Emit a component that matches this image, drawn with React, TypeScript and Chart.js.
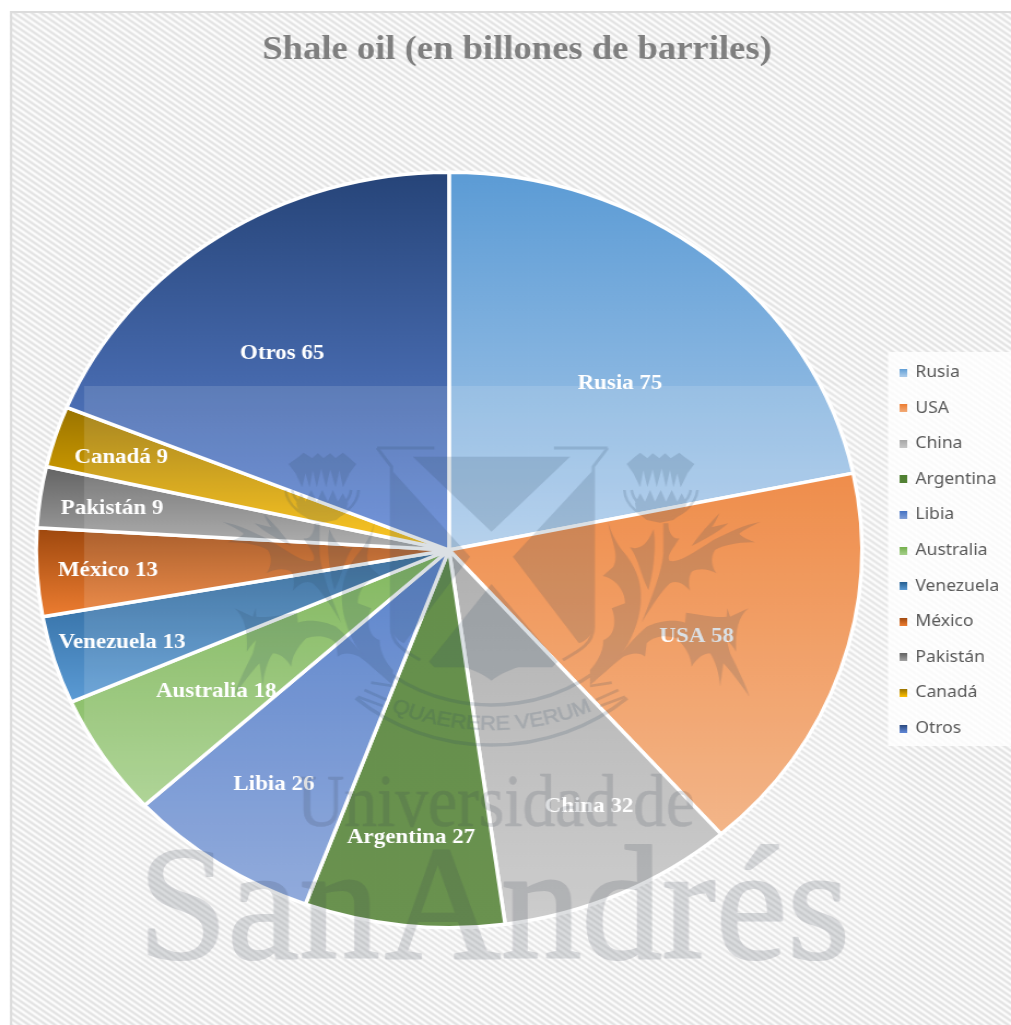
import React, { useEffect, useRef } from "react";
import { Chart, registerables } from "chart.js";

Chart.register(...registerables);

const categories = ["Rusia", "USA", "China", "Argentina", "Libia", "Australia", "Venezuela", "México", "Pakistán", "Canadá", "Otros"];
const reserves = [75, 58, 32, 27, 26, 18, 13, 13, 9, 9, 65];
const gradientTop = ["#5b9bd5", "#ed7d31", "#a5a5a5", "#4e7f31", "#4472c4", "#70ad47", "#255e91", "#9e480e", "#636363", "#997300", "#264478"];
const gradientBottom = ["#accbea", "#f2ab78", "#c6c6c6", "#548235", "#829fd7", "#a4cf89", "#5b9bd5", "#ed7d31", "#a5a5a5", "#ffc000", "#5f86d6"];
// Label anchors as fractions of the pie radius, measured from its centre.
const labelOffsetX = [0.414, 0.6, 0.339, -0.092, -0.424, -0.564, -0.792, -0.826, -0.816, -0.794, -0.404];
const labelOffsetY = [-0.447, 0.225, 0.675, 0.757, 0.616, 0.37, 0.241, 0.048, -0.116, -0.251, -0.524];

const PAGE_W = 1011;
const PAGE_H = 1025;
const CANVAS_W = 925;
const STRETCH = PAGE_W / CANVAS_W;
const PIE_CX = 449 / STRETCH;
const PIE_TOP = 170.5;
const PIE_BOTTOM = 929.5;

const THISTLE_SHAPES = [
  "M110,72 L135,50 L150,38 L172,55 L188,40 L208,55 L225,40 L242,55 L268,38 L282,50 L313,72 L292,100 L272,142 L262,100 L250,142 L240,90 L228,142 L215,85 L200,142 L188,88 L172,142 L160,90 L150,142 L130,100 Z",
  "M135,190 L150,160 L165,185 L180,150 L195,185 L212,150 L228,185 L245,150 L262,185 L275,160 L290,190 L282,215 L250,240 L210,248 L170,240 L140,215 Z",
  "M55,245 C60,300 90,340 70,380 L38,408 C75,415 105,450 105,490 L65,505 C80,540 75,590 40,600 C40,640 15,675 0,690 L0,725 C60,700 120,620 140,550 C165,470 155,400 100,335 C75,305 60,270 55,245 Z",
  "M120,322 C145,330 170,320 190,268 C198,300 195,380 175,450 C150,400 145,355 120,322 Z",
  "M220,250 L235,250 C235,280 250,300 268,295 C250,325 230,345 238,362 C262,370 300,345 370,300 C420,275 460,255 512,245 C480,260 450,275 448,282 C460,295 480,300 495,307 C450,305 400,315 375,330 C360,350 365,385 380,400 C350,385 325,385 305,395 C295,410 295,435 300,452 C280,430 260,420 240,430 C215,450 185,500 155,548 C185,470 215,400 220,340 Z",
  "M305,318 C330,280 360,250 388,220 C380,240 370,255 365,262 L415,250 C380,280 340,300 305,318 Z",
  "M0,725 C60,690 120,600 170,560 C200,545 250,535 285,548 L288,518 C340,525 380,535 410,530 L412,505 L420,530 L475,505 C445,530 435,570 438,635 C430,620 420,610 410,600 L420,640 C440,680 465,730 478,770 C450,730 420,690 400,670 L390,740 C388,700 375,660 360,640 C340,640 320,655 305,680 C302,650 290,625 260,595 C230,585 195,585 170,610 L165,650 C150,635 120,640 100,650 C60,680 30,710 0,735 Z",
];
const THISTLE_LINES = [
  "M0,738 L65,728",
  "M18,780 L85,750",
  "M30,798 L105,770",
  "M103,150 C105,195 150,235 212,240 C270,235 318,195 322,150",
  "M125,150 C128,180 160,215 212,220 C262,215 298,180 302,150",
];
const SHIELD_SHAPES = [
  "M540,80 L980,80 L760,305 Z",
  "M480,120 L700,380 L515,640 C495,630 480,610 480,585 Z",
  "M1045,120 L820,380 L1005,640 C1030,630 1045,610 1045,585 Z",
  "M760,462 L945,695 L930,712 L835,712 C810,720 780,735 760,752 C740,735 710,720 685,712 L600,712 L585,695 Z",
];
const SHIELD_LINES = [
  "M440,54 L600,54 M1085,54 L935,54",
  "M440,54 L480,110 L480,590 C480,640 510,660 560,690",
  "M1085,54 L1045,110 L1045,590 C1045,640 1010,660 960,690",
];

function sliceExtent(i: number, cy: number, r: number): [number, number] {
  const total = reserves.reduce((a, b) => a + b, 0);
  const before = reserves.slice(0, i).reduce((a, b) => a + b, 0);
  const a0 = (before / total) * Math.PI * 2;
  const a1 = ((before + reserves[i]) / total) * Math.PI * 2;
  const ys = [cy, cy - r * Math.cos(a0), cy - r * Math.cos(a1)];
  if (a0 < Math.PI && a1 > Math.PI) ys.push(cy + r);
  return [Math.min(...ys), Math.max(...ys)];
}

function hatchPattern(ctx: CanvasRenderingContext2D) {
  const tile = document.createElement("canvas");
  tile.width = 8;
  tile.height = 6;
  const t = tile.getContext("2d")!;
  for (let y = 0; y < 6; y++) {
    for (let x = 0; x < 8; x++) {
      const phase = ((x - (y * 8) / 6 + 16) % 8) / 8;
      const v = Math.round(240 + 13 * Math.cos(phase * Math.PI * 2));
      t.fillStyle = `rgb(${v},${v},${v})`;
      t.fillRect(x, y, 1, 1);
    }
  }
  return ctx.createPattern(tile, "repeat")!;
}

function swatch(top: string, bottom: string) {
  const c = document.createElement("canvas");
  c.width = 7;
  c.height = 8;
  const g = c.getContext("2d")!;
  const grad = g.createLinearGradient(0, 0, 0, 8);
  grad.addColorStop(0, top);
  grad.addColorStop(1, bottom);
  g.fillStyle = grad;
  g.fillRect(0, 0, 7, 8);
  return c;
}

// The crest is painted opaque on its own layer so overlapping parts do not darken twice.
function crestLayer() {
  const c = document.createElement("canvas");
  c.width = PAGE_W;
  c.height = PAGE_H;
  const g = c.getContext("2d")!;
  g.fillStyle = "#2d465f";
  g.strokeStyle = "#2d465f";

  const thistle = () => {
    g.save();
    g.translate(590, 440);
    g.scale(1 / 3, 1 / 3);
    THISTLE_SHAPES.forEach((d) => g.fill(new Path2D(d)));
    g.lineWidth = 8;
    THISTLE_LINES.forEach((d) => g.stroke(new Path2D(d)));
    g.restore();
  };
  thistle();
  g.save();
  g.translate(491.4 * 2, 0);
  g.scale(-1, 1);
  thistle();
  g.restore();

  g.save();
  g.translate(220, 430);
  g.scale(1 / 2.8, 1 / 3);
  SHIELD_SHAPES.forEach((d) => g.fill(new Path2D(d)));
  g.lineWidth = 9;
  SHIELD_LINES.forEach((d) => g.stroke(new Path2D(d)));
  g.restore();

  g.lineWidth = 3.5;
  g.beginPath();
  g.ellipse(491.4, 551, 168, 154, 0, Math.PI * 0.2, Math.PI * 0.8);
  g.stroke();
  g.beginPath();
  g.ellipse(491.4, 557, 205, 188, 0, Math.PI * 0.27, Math.PI * 0.73);
  g.stroke();

  g.save();
  g.translate(491.4, 500);
  g.scale(1.09, 1);
  g.font = "20px 'Liberation Sans'";
  g.textAlign = "center";
  const motto = "QUAERERE VERUM";
  const radius = 230;
  const fullWidth = g.measureText(motto).width;
  let run = -fullWidth / 2;
  for (const ch of motto) {
    const w = g.measureText(ch).width;
    const angle = (run + w / 2) / radius;
    g.save();
    g.translate(radius * Math.sin(angle), radius * Math.cos(angle));
    g.rotate(-angle);
    g.fillText(ch, 0, 0);
    g.strokeStyle = "#2d465f";
    g.lineWidth = 0.5;
    g.strokeText(ch, 0, 0);
    g.restore();
    run += w;
  }
  g.restore();
  return c;
}

// University name in heavy serif letters, on its own layer so fill and outline blend as one.
function nameLayer() {
  const c = document.createElement("canvas");
  c.width = PAGE_W;
  c.height = PAGE_H;
  const g = c.getContext("2d")!;
  g.textAlign = "left";
  g.textBaseline = "alphabetic";
  g.lineJoin = "round";
  g.fillStyle = "#3a4050";
  g.strokeStyle = "#3a4050";
  g.font = "75px 'Liberation Serif'";
  g.lineWidth = 0.6;
  g.fillText("Universidad de", 297, 826, 398);
  g.strokeText("Universidad de", 297, 826, 398);
  (g as any).wordSpacing = "-36px";
  g.font = "164px 'Liberation Serif'";
  g.lineWidth = 2.2;
  g.fillText("San Andrés", 138, 958, 712);
  g.strokeText("San Andrés", 138, 958, 712);
  return c;
}

const placement = {
  id: "placement",
  afterLayout(chart: any) {
    const area = chart.chartArea;
    const r = (PIE_BOTTOM - PIE_TOP) / 2;
    area.top = PIE_TOP;
    area.bottom = PIE_BOTTOM;
    area.left = PIE_CX - r;
    area.right = PIE_CX + r;
    area.width = r * 2;
    area.height = r * 2;
    const legend = chart.legend;
    legend.left = 899 / STRETCH - 19.6;
    legend.top = 339;
    legend.bottom = 762;
  },
};

const backdrop = {
  id: "backdrop",
  beforeDraw(chart: any) {
    const { ctx } = chart;
    ctx.save();
    ctx.fillStyle = "#ffffff";
    ctx.fillRect(0, 0, CANVAS_W, PAGE_H);
    const x0 = 10 / STRETCH;
    ctx.fillStyle = hatchPattern(ctx);
    ctx.fillRect(x0, 11, CANVAS_W - x0, PAGE_H - 11);
    ctx.strokeStyle = "#dcdcdc";
    ctx.lineWidth = 2;
    ctx.strokeRect(x0 + 1, 12, CANVAS_W, PAGE_H);
    ctx.fillStyle = "rgba(255,255,255,0.82)";
    ctx.fillRect(888 / STRETCH, 352, CANVAS_W, 394);
    ctx.restore();
  },
};

const sliceLabels = {
  id: "sliceLabels",
  afterDatasetsDraw(chart: any) {
    const { ctx } = chart;
    const arcs = chart.getDatasetMeta(0).data;
    ctx.save();
    ctx.font = "bold 21px 'Liberation Serif'";
    ctx.fillStyle = "#ffffff";
    ctx.textAlign = "center";
    ctx.textBaseline = "middle";
    arcs.forEach((arc: any, i: number) => {
      const x = arc.x + labelOffsetX[i] * arc.outerRadius;
      const y = arc.y + labelOffsetY[i] * arc.outerRadius + 2;
      ctx.fillText(`${categories[i]} ${reserves[i]}`, x, y);
    });
    ctx.restore();
  },
};

const watermark = {
  id: "watermark",
  afterDraw(chart: any) {
    const { ctx } = chart;
    ctx.save();
    ctx.scale(1 / STRETCH, 1);
    ctx.fillStyle = "rgba(255,255,255,0.13)";
    ctx.fillRect(84, 386, 816, 574);
    ctx.globalAlpha = 0.17;
    ctx.drawImage(crestLayer(), 0, 0);
    ctx.drawImage(nameLayer(), 0, 0);
    ctx.restore();
  },
};

export default function App() {
  const ref = useRef<HTMLCanvasElement | null>(null);
  useEffect(() => {
    const canvas = ref.current!;
    const chart = new Chart(canvas, {
      type: "pie",
      data: {
        labels: categories,
        datasets: [
          {
            data: reserves,
            borderColor: "#ffffff",
            borderWidth: 3.5,
            backgroundColor: (c: any) => {
              const area = c.chart.chartArea;
              if (!area) return gradientTop[c.dataIndex];
              const cy = (area.top + area.bottom) / 2;
              const r = (area.bottom - area.top) / 2;
              const [y0, y1] = sliceExtent(c.dataIndex, cy, r);
              const g = c.chart.ctx.createLinearGradient(0, y0, 0, y1);
              g.addColorStop(0, gradientTop[c.dataIndex]);
              g.addColorStop(1, gradientBottom[c.dataIndex]);
              return g;
            },
          },
        ],
      },
      options: {
        responsive: false,
        animation: false,
        devicePixelRatio: 1,
        layout: { padding: { left: 21 } },
        plugins: {
          title: {
            display: true,
            text: "Shale oil (en billones de barriles)",
            color: "#7f7f7f",
            font: { family: "'Liberation Serif'", size: 33.5, weight: "bold", lineHeight: 1.2 },
            padding: { top: 30, bottom: 10 },
          },
          legend: {
            position: "right",
            labels: {
              usePointStyle: true,
              boxWidth: 7,
              boxHeight: 8,
              padding: 19.6,
              color: "#595959",
              font: { family: "'Noto Sans'", size: 16 },
              generateLabels: () =>
                categories.map((text, i) => ({
                  text,
                  index: i,
                  fontColor: "#595959",
                  fillStyle: gradientTop[i],
                  strokeStyle: "transparent",
                  lineWidth: 0,
                  pointStyle: swatch(gradientTop[i], gradientBottom[i]),
                })),
            },
          },
          tooltip: { enabled: false },
        },
      } as any,
      plugins: [placement, backdrop, sliceLabels, watermark],
    });
    return () => chart.destroy();
  }, []);
  return (
    <canvas
      ref={ref}
      width={CANVAS_W}
      height={PAGE_H}
      style={{
        position: "fixed",
        left: 0,
        top: 0,
        width: CANVAS_W,
        height: PAGE_H,
        transformOrigin: "0 0",
        transform: `scaleX(${STRETCH})`,
      }}
    />
  );
}
